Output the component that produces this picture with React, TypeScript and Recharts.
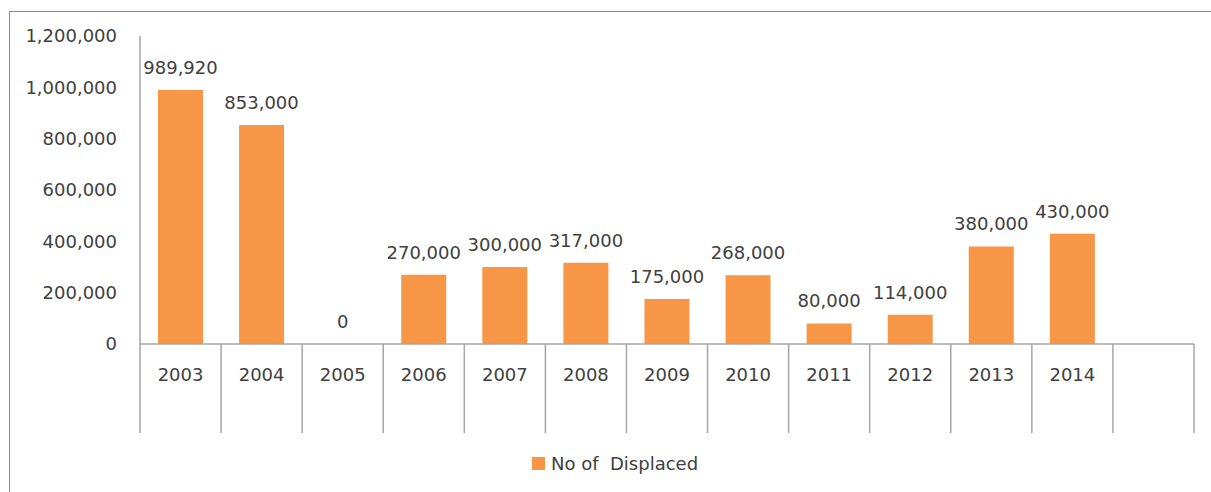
import { BarChart, Bar, XAxis, YAxis, Legend, LabelList } from 'recharts';

// categories; the trailing empty slot is an empty category on the Excel axis
const years = ['2003', '2004', '2005', '2006', '2007', '2008', '2009', '2010', '2011', '2012', '2013', '2014', ''];
const displaced: (number | null)[] = [989920, 853000, 0, 270000, 300000, 317000, 175000, 268000, 80000, 114000, 380000, 430000, null];
const yTicks = [0, 200000, 400000, 600000, 800000, 1000000, 1200000];

const data = years.map((year, i) => ({ year, value: displaced[i] }));

const W = 1211;
const H = 492;
const FONT = '"DejaVu Sans", sans-serif';
const TEXT = '#404040';
const LINE = '#a6a6a6';
const ORANGE = '#F79646';

const fmt = (v: any) => (v == null ? '' : Number(v).toLocaleString('en-US'));

const YearTick = (props: any) => {
  const { x, y, payload, index, visibleTicksCount } = props;
  const half = payload.offset ?? 40.5;
  const last = index === (visibleTicksCount ?? years.length) - 1;
  return (
    <g>
      <line x1={x - half} y1={y} x2={x - half} y2={y + 89} stroke={LINE} strokeWidth={1.5} />
      {last && <line x1={x + half} y1={y} x2={x + half} y2={y + 89} stroke={LINE} strokeWidth={1.5} />}
      <text x={x} y={y + 37} textAnchor="middle" fill={TEXT} fontSize={18} fontFamily={FONT}>
        {payload.value}
      </text>
    </g>
  );
};

const LegendBox = (props: any) => {
  const item = props.payload?.[0];
  return (
    <div style={{ display: 'flex', alignItems: 'center', height: 24, paddingLeft: 532, fontFamily: FONT, fontSize: 18, color: TEXT }}>
      <span style={{ width: 13, height: 13, background: item?.color ?? ORANGE, display: 'inline-block', marginRight: 6 }} />
      <span style={{ whiteSpace: 'pre' }}>{item?.value}</span>
    </div>
  );
};

// a zero value still gets its "0" data label in Excel, so keep a hairline rect for it
const zeroKeep = (value: any) => (value === 0 ? 0.01 : 0);

export default function App() {
  return (
    <div style={{ position: 'absolute', left: 0, top: 0, width: W, height: H, background: '#fff', fontFamily: FONT, overflow: 'hidden' }}>
      <div style={{ position: 'absolute', left: 9, top: 11, right: 0, bottom: 0, borderLeft: '1.5px solid #8a8a8a', borderTop: '1.5px solid #8a8a8a' }} />
      <BarChart width={W} height={H} data={data} margin={{ top: 36, right: 17, left: 0, bottom: 0 }} style={{ position: 'absolute', left: 0, top: 0 }}>
        <XAxis
          dataKey="year"
          interval={0}
          height={124}
          tickSize={0}
          tickMargin={0}
          tickLine={false}
          axisLine={{ stroke: LINE, strokeWidth: 1.5 }}
          tick={<YearTick />}
        />
        <YAxis
          width={140}
          domain={[0, 1200000]}
          ticks={yTicks}
          tickFormatter={fmt}
          tickLine={false}
          tickSize={6}
          tickMargin={17}
          axisLine={{ stroke: LINE, strokeWidth: 1.5 }}
          tick={{ fill: TEXT, fontSize: 18, fontFamily: FONT }}
        />
        <Legend
          verticalAlign="bottom"
          align="left"
          wrapperStyle={{ left: 0, width: W, bottom: 17, height: 24 }}
          content={<LegendBox />}
        />
        <Bar dataKey="value" name="No of  Displaced" fill={ORANGE} barSize={45} minPointSize={zeroKeep} isAnimationActive={false}>
          <LabelList dataKey="value" position="top" offset={16} formatter={fmt} fill={TEXT} fontSize={18} fontFamily={FONT} />
        </Bar>
      </BarChart>
    </div>
  );
}
